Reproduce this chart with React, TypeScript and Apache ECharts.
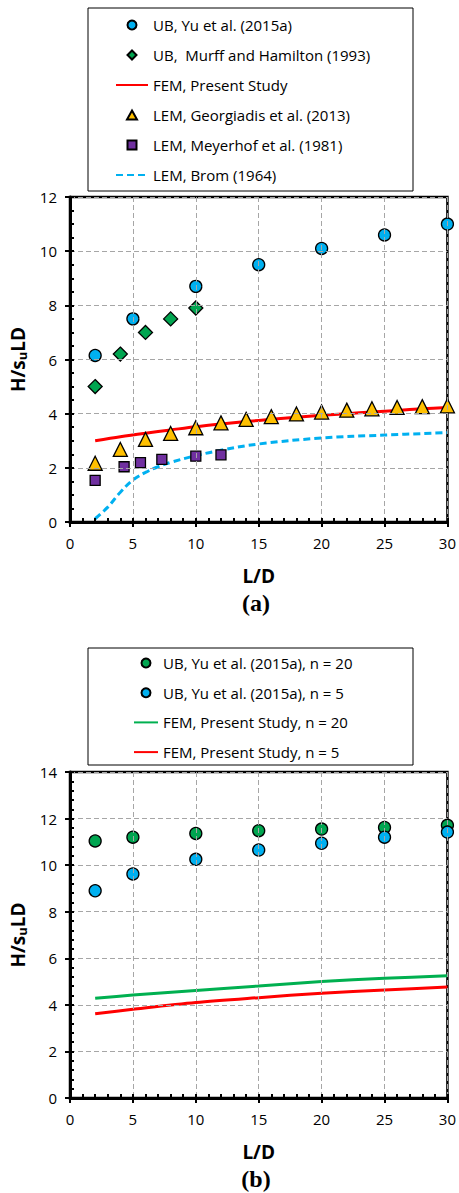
import React, { useEffect, useRef } from "react";
import * as echarts from "echarts";

const W = 459;
const H = 1193;

// ---------- Chart (a) data ----------
const ubYuX = [2, 5, 10, 15, 20, 25, 30];
const ubYuY = [6.15, 7.5, 8.7, 9.5, 10.1, 10.6, 11.0];
const murffX = [2, 4, 6, 8, 10];
const murffY = [5.0, 6.2, 7.0, 7.5, 7.9];
const femAX = [2, 4, 6, 8, 10, 12, 14, 16, 18, 20, 22, 24, 26, 28, 30];
const femAY = [3.0, 3.15, 3.28, 3.4, 3.52, 3.62, 3.71, 3.79, 3.87, 3.94, 4.0, 4.06, 4.12, 4.18, 4.23];
const geoX = [2, 4, 6, 8, 10, 12, 14, 16, 18, 20, 22, 24, 26, 28, 30];
const geoY = [2.17, 2.68, 3.05, 3.27, 3.48, 3.66, 3.79, 3.89, 3.99, 4.06, 4.13, 4.18, 4.23, 4.26, 4.29];
const meyX = [2, 4.3, 5.6, 7.3, 10, 12];
const meyY = [1.54, 2.04, 2.19, 2.31, 2.43, 2.48];
const bromX = [2, 3, 4, 5, 6, 7, 8, 10, 12, 15, 20, 25, 30];
const bromY = [0.12, 0.55, 1.1, 1.55, 1.83, 2.04, 2.2, 2.45, 2.65, 2.88, 3.1, 3.21, 3.3];

// ---------- Chart (b) data ----------
const bX = [2, 5, 10, 15, 20, 25, 30];
const ub20Y = [11.04, 11.2, 11.36, 11.48, 11.55, 11.62, 11.71];
const ub5Y = [8.9, 9.62, 10.25, 10.65, 10.94, 11.2, 11.42];
const fem20Y = [4.28, 4.42, 4.62, 4.81, 5.0, 5.14, 5.25];
const fem5Y = [3.62, 3.81, 4.1, 4.31, 4.5, 4.64, 4.77];

// ---------- tick labels ----------
const xTickLabels = [0, 5, 10, 15, 20, 25, 30];
const yTickLabelsA = [0, 2, 4, 6, 8, 10, 12];
const yTickLabelsB = [0, 2, 4, 6, 8, 10, 12, 14];
const xMinorStep = 1;
const yMinorStepA = 0.5;
const yMinorStepB = 0.4;

const namesA = [
  "UB, Yu et al. (2015a)",
  "UB,  Murff and Hamilton (1993)",
  "FEM, Present Study",
  "LEM, Georgiadis et al. (2013)",
  "LEM, Meyerhof et al. (1981)",
  "LEM, Brom (1964)",
];
const namesB = [
  "UB, Yu et al. (2015a), n = 20",
  "UB, Yu et al. (2015a), n = 5",
  "FEM, Present Study, n = 20",
  "FEM, Present Study, n = 5",
];

const pairs = (xs: number[], ys: number[]) => xs.map((x, i) => [x, ys[i]]);
const steps = (max: number, step: number) => {
  const out: number[] = [];
  const n = Math.round(max / step);
  for (let i = 0; i <= n; i++) out.push(Math.round(i * step * 1000) / 1000);
  return out;
};

export default function App() {
  const ref = useRef<HTMLDivElement>(null);
  useEffect(() => {
    document.body.style.margin = "0";
    const chart = echarts.init(ref.current!, null, { renderer: "svg", width: W, height: H });
    const F = "Open Sans";
    const black = "#000";
    const xMax = xTickLabels[xTickLabels.length - 1];
    const gridLine = { show: true, lineStyle: { color: "#a6a6a6", type: [5, 3], width: 1 } };

    const mainX = (gi: number) => ({
      type: "value",
      gridIndex: gi,
      min: 0,
      max: xMax,
      interval: 5,
      position: "bottom",
      axisLine: { onZero: false, lineStyle: { color: black, width: 3 } },
      axisTick: { show: true, inside: false, length: 5, customValues: xTickLabels, lineStyle: { color: black, width: 2 } },
      minorTick: { show: false },
      axisLabel: { color: black, fontFamily: F, fontSize: 15, margin: 13, customValues: xTickLabels },
      splitLine: gridLine,
      name: "L/D",
      nameLocation: "middle",
      nameGap: 44,
      nameTextStyle: { color: black, fontFamily: F, fontWeight: "bold", fontSize: 19 },
      z: 5,
    });
    const minorX = (gi: number) => ({
      type: "value",
      gridIndex: gi,
      min: 0,
      max: xMax,
      interval: 5,
      position: "bottom",
      axisLine: { show: false },
      axisTick: { show: true, inside: true, length: 4, customValues: steps(xMax, xMinorStep), lineStyle: { color: black, width: 2 } },
      axisLabel: { show: false },
      splitLine: { show: false },
      z: 5,
    });
    const mainY = (gi: number, labels: number[]) => ({
      type: "value",
      gridIndex: gi,
      min: 0,
      max: labels[labels.length - 1],
      interval: 2,
      position: "left",
      axisLine: { onZero: false, lineStyle: { color: black, width: 3 } },
      axisTick: { show: true, inside: false, length: 5, customValues: labels, lineStyle: { color: black, width: 2 } },
      axisLabel: { color: black, fontFamily: F, fontSize: 15, margin: 13, customValues: labels },
      splitLine: gridLine,
      name: "{a|H/s}{b|u}{a|LD}",
      nameLocation: "middle",
      nameGap: 41,
      nameTextStyle: {
        color: black,
        rich: {
          a: { fontFamily: F, fontWeight: "bold", fontSize: 19, color: black },
          b: { fontFamily: F, fontWeight: "bold", fontSize: 13, color: black, padding: [8, 0, 0, 0] },
        },
      },
      z: 5,
    });
    const minorY = (gi: number, max: number, step: number) => ({
      type: "value",
      gridIndex: gi,
      min: 0,
      max,
      interval: 2,
      position: "left",
      axisLine: { show: false },
      axisTick: { show: true, inside: true, length: 4, customValues: steps(max, step), lineStyle: { color: black, width: 2 } },
      axisLabel: { show: false },
      splitLine: { show: false },
      z: 5,
    });

    const sc = (name: string, xi: number, yi: number, data: number[][], symbol: string, size: number, color: string) => ({
      name,
      type: "scatter",
      xAxisIndex: xi,
      yAxisIndex: yi,
      data,
      symbol,
      symbolSize: size,
      itemStyle: { color, borderColor: black, borderWidth: 1.3, opacity: 1 },
      z: 4,
    });
    const ln = (name: string, xi: number, yi: number, data: number[][], color: string, type: any, smooth: number) => ({
      name,
      type: "line",
      xAxisIndex: xi,
      yAxisIndex: yi,
      data,
      symbol: "none",
      smooth,
      lineStyle: { color, width: 3, type },
      itemStyle: { color },
      z: 3,
    });
    const hideSym = { color: "rgba(0,0,0,0)", borderColor: "rgba(0,0,0,0)", borderWidth: 0 };
    const icons: Record<string, string> = {
      diamond: "path://M5,0L10,5L5,10L0,5Z",
      triangle: "path://M5,0L10,9L0,9Z",
      square: "path://M0,0L10,0L10,10L0,10Z",
    };

    const legendText = { fontFamily: F, fontSize: 15, color: black, lineHeight: 16 };
    const yMaxA = yTickLabelsA[yTickLabelsA.length - 1];
    const yMaxB = yTickLabelsB[yTickLabelsB.length - 1];

    const option: any = {
      animation: false,
      backgroundColor: "#fff",
      grid: [
        { left: 70, top: 197, width: 379.5, height: 325, show: true, borderColor: black, borderWidth: 2.5, backgroundColor: "transparent" },
        { left: 70, top: 772, width: 379.5, height: 326, show: true, borderColor: black, borderWidth: 2.5, backgroundColor: "transparent" },
      ],
      // x: 0 main (a), 1 minor (a), 2 main (b), 3 minor (b)
      xAxis: [mainX(0), minorX(0), mainX(1), minorX(1)],
      // y: 0 main (a), 1 minor (a), 2 main (b), 3 minor (b)
      yAxis: [mainY(0, yTickLabelsA), minorY(0, yMaxA, yMinorStepA), mainY(1, yTickLabelsB), minorY(1, yMaxB, yMinorStepB)],
      legend: [
        {
          left: 115,
          top: 17,
          orient: "vertical",
          itemWidth: 32,
          itemHeight: 9,
          itemGap: 14,
          padding: 0,
          selectedMode: false,
          data: [
            { name: namesA[0] },
            { name: namesA[1], icon: icons.diamond },
            { name: namesA[2], itemStyle: hideSym },
            { name: namesA[3], icon: icons.triangle },
            { name: namesA[4], icon: icons.square },
            { name: namesA[5], itemStyle: hideSym },
          ],
          textStyle: legendText,
        },
        {
          left: 133,
          top: 655,
          orient: "vertical",
          itemWidth: 24,
          itemHeight: 9,
          itemGap: 13.7,
          padding: 0,
          selectedMode: false,
          data: [
            { name: namesB[0] },
            { name: namesB[1] },
            { name: namesB[2], itemStyle: hideSym },
            { name: namesB[3], itemStyle: hideSym },
          ],
          textStyle: legendText,
        },
      ],
      graphic: [
        { type: "rect", shape: { x: 88, y: 8, width: 325, height: 183 }, style: { fill: "none", stroke: black, lineWidth: 1 } },
        { type: "rect", shape: { x: 88, y: 648, width: 325, height: 117 }, style: { fill: "none", stroke: black, lineWidth: 1 } },
        { type: "text", x: 256, y: 603, style: { text: "(a)", fontFamily: "Liberation Serif", fontWeight: "bold", fontSize: 24, fill: black, align: "center", verticalAlign: "middle" } },
        { type: "text", x: 256, y: 1179, style: { text: "(b)", fontFamily: "Liberation Serif", fontWeight: "bold", fontSize: 24, fill: black, align: "center", verticalAlign: "middle" } },
      ],
      series: [
        ln(namesA[2], 0, 0, pairs(femAX, femAY), "#ff0000", "solid", 0.3),
        ln(namesA[5], 0, 0, pairs(bromX, bromY), "#00b0f0", [7, 4], 0.4),
        sc(namesA[0], 0, 0, pairs(ubYuX, ubYuY), "circle", 12, "#00b0f0"),
        sc(namesA[1], 0, 0, pairs(murffX, murffY), "diamond", 14, "#00a550"),
        sc(namesA[3], 0, 0, pairs(geoX, geoY), "triangle", 14, "#ffc000"),
        sc(namesA[4], 0, 0, pairs(meyX, meyY), "rect", 10, "#7030a0"),
        ln(namesB[2], 2, 2, pairs(bX, fem20Y), "#00b050", "solid", 0.3),
        ln(namesB[3], 2, 2, pairs(bX, fem5Y), "#ff0000", "solid", 0.3),
        sc(namesB[0], 2, 2, pairs(bX, ub20Y), "circle", 12, "#00a550"),
        sc(namesB[1], 2, 2, pairs(bX, ub5Y), "circle", 12, "#00b0f0"),
      ],
    };
    chart.setOption(option);
    return () => chart.dispose();
  }, []);
  return <div ref={ref} style={{ width: W, height: H }} />;
}
